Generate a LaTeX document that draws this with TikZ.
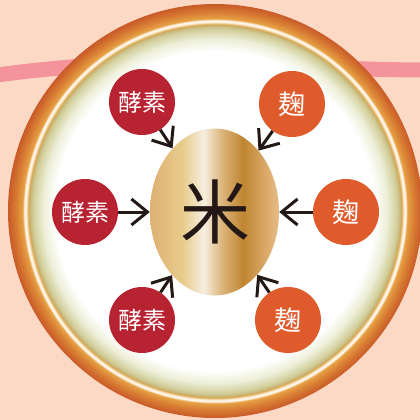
\documentclass[tikz,border=0pt]{standalone}
\usepackage{fontspec}
\newfontfamily\jp{Noto Sans CJK JP}
\usetikzlibrary{arrows.meta,shapes.geometric}
\definecolor{bg}{HTML}{FCD9C5}
\definecolor{band}{HTML}{F4939B}
\definecolor{koso}{HTML}{B82331}
\definecolor{koji}{HTML}{E05B2C}
\definecolor{ink}{HTML}{231815}
\definecolor{ra}{HTML}{DDB070}
\definecolor{rb}{HTML}{E8CC8C}
\definecolor{rc}{HTML}{F6EEE0}
\definecolor{rd}{HTML}{DDB77E}
\definecolor{re}{HTML}{BF8531}
\definecolor{rf}{HTML}{D9A664}
\definecolor{rg}{HTML}{E5BD88}
\definecolor{ga}{HTML}{EDEFD8}
\definecolor{gb}{HTML}{D2CF9C}
\definecolor{gbb}{HTML}{C9B474}
\definecolor{gc}{HTML}{D9A54A}
\definecolor{gd}{HTML}{FFF0DA}
\definecolor{ge}{HTML}{FFF8EE}
\definecolor{gf}{HTML}{E6A044}
\definecolor{gg}{HTML}{D87E34}
\definecolor{gh}{HTML}{C95A28}
\pgfdeclarehorizontalshading{riceshade}{100bp}{color(0bp)=(ra); color(25bp)=(ra); color(37.5bp)=(rb); color(46bp)=(rc); color(52.5bp)=(rd); color(61bp)=(re); color(69bp)=(rf); color(75bp)=(rg); color(100bp)=(rg)}
\pgfdeclareradialshading{ringshade}{\pgfpoint{0bp}{0bp}}{color(0bp)=(white); color(19.3bp)=(white); color(20.77bp)=(ga); color(21.98bp)=(gb); color(22.4bp)=(gbb); color(22.55bp)=(gc); color(22.8bp)=(gd); color(23bp)=(ge); color(23.25bp)=(gf); color(24bp)=(gg); color(25bp)=(gh); color(50bp)=(gh)}
\tikzset{
  kosobox/.style={circle, fill=koso, minimum size=66pt, inner sep=0pt, text=white, font=\jp\fontsize{24}{24}\selectfont},
  kojibox/.style={circle, fill=koji, minimum size=66pt, inner sep=0pt, text=white, font=\jp\fontsize{27}{27}\selectfont},
  arr/.style={draw=ink, line width=3pt, -{Straight Barb[length=16pt,width=26pt]}},
}
\begin{document}
\begin{tikzpicture}[x=1pt,y=-1pt]
\fill[bg] (0,0) rectangle (420,420);
\useasboundingbox (0,0) rectangle (420,420);
\draw[band, line width=15pt] (-10,76) .. controls (60,66) and (150,60) .. (215,62) .. controls (280,64) and (340,70) .. (430,70);
\shade[shading=ringshade] (215,211) circle[radius=207];
\node[ellipse, minimum width=129pt, minimum height=167pt, inner sep=0pt, shading=riceshade] (rice) at (214.5,212) {};
\node[text=ink, font=\jp\fontsize{70}{70}\selectfont] (kome) at (215,212) {米};
\node[kosobox] (k1) at (142,102) {酵素};
\node[kosobox] (k2) at (85,212) {酵素};
\node[kosobox] (k3) at (142,320) {酵素};
\node[kojibox] (j1) at (292,104) {麹};
\node[kojibox] (j2) at (346,212) {麹};
\node[kojibox] (j3) at (288,320) {麹};
\draw[arr] (k1) -- (rice);
\draw[arr] (k2) -- (rice);
\draw[arr] (k3) -- (rice);
\draw[arr] (j1) -- (rice);
\draw[arr] (j2) -- (rice);
\draw[arr] (j3) -- (rice);
\end{tikzpicture}
\end{document}
